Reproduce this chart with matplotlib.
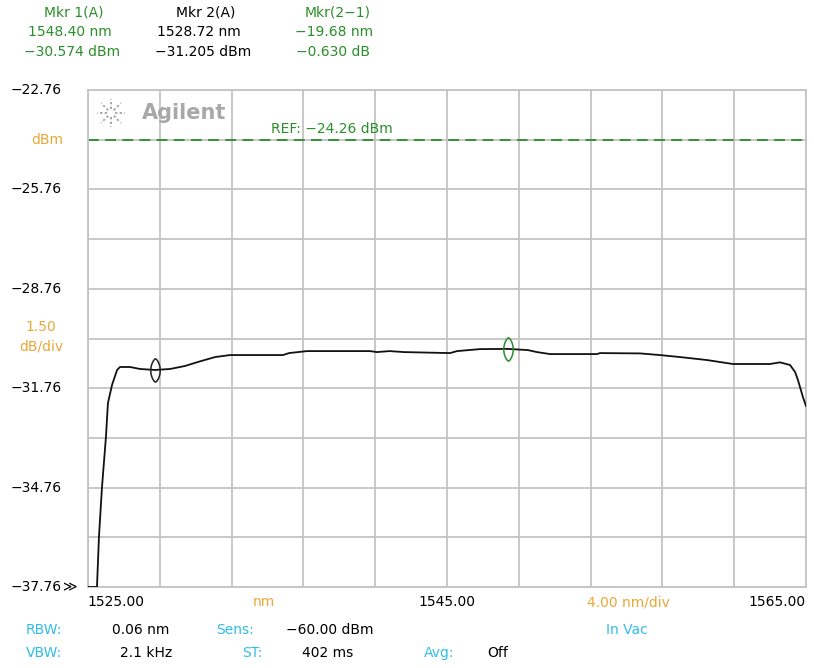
import numpy as np
import matplotlib.pyplot as plt
from matplotlib.path import Path
from matplotlib.lines import Line2D

# trace (nm, dBm)
wavelength = [1525.00, 1525.50, 1525.61, 1525.78, 1526.00, 1526.11, 1526.34, 1526.62,
              1526.78, 1527.34, 1527.90, 1528.73, 1529.57, 1530.40, 1531.24, 1532.08,
              1532.91, 1535.86, 1536.20, 1537.20, 1540.71, 1541.10, 1541.80, 1542.60,
              1545.17, 1545.56, 1546.84, 1548.40, 1549.51, 1550.01, 1550.74, 1553.36,
              1553.52, 1555.75, 1556.87, 1557.98, 1559.48, 1560.21, 1560.93, 1562.99,
              1563.55, 1564.11, 1564.39, 1564.55, 1564.83, 1565.00]
power = [-37.76, -37.76, -36.25, -34.74, -33.23, -32.21, -31.66, -31.21,
         -31.12, -31.12, -31.18, -31.21, -31.18, -31.09, -30.95, -30.82,
         -30.76, -30.76, -30.70, -30.64, -30.64, -30.67, -30.64, -30.67,
         -30.70, -30.64, -30.58, -30.574, -30.61, -30.67, -30.73, -30.73,
         -30.70, -30.71, -30.76, -30.82, -30.91, -30.97, -31.03, -31.03,
         -30.98, -31.06, -31.27, -31.51, -32.03, -32.30]

mkr_wl = [1548.40, 1528.72]
mkr_pw = [-30.574, -31.205]
mkr_col = ["#2a8f2a", "#222222"]

ref_level = -24.26
y_top, y_bot = -22.76, -37.76
x_lo, x_hi = 1525.0, 1565.0
ylabels = ["−22.76", "−25.76", "−28.76", "−31.76", "−34.76", "−37.76"]
xlabels = ["1525.00", "1545.00", "1565.00"]

green = "#2a8f2a"
orange = "#e8a838"
cyan = "#30bde8"
grid_c = "#c4c4c4"

W, H = 814, 668
fig = plt.figure(figsize=(W / 100, H / 100), dpi=100)
ax = fig.add_axes([88 / W, 1 - 587 / H, 718 / W, 497 / H])
ax.set_xlim(x_lo, x_hi)
ax.set_ylim(y_bot, y_top)

# 10 x 10 graticule
ax.set_xticks(np.linspace(x_lo, x_hi, 11))
ax.set_yticks(np.linspace(y_bot, y_top, 11))
ax.grid(True, color=grid_c, lw=1.3)
ax.tick_params(length=0, labelleft=False, labelbottom=False)
for s in ax.spines.values():
    s.set_color(grid_c)
    s.set_linewidth(1.3)

ax.plot(wavelength, power, color="#111111", lw=1.3, zorder=3)
ax.axhline(ref_level, color=green, lw=1.3, ls=(0, (6, 3.5)), zorder=2)

# lens shaped marker symbols
t = np.linspace(-1, 1, 31)
half = 0.4 * (1 - t**2) ** 0.75
lens = np.concatenate([np.column_stack([half, t]),
                       np.column_stack([-half[::-1], t[::-1]])])
lens_path = Path(lens)
for xm, ym, c in zip(mkr_wl, mkr_pw, mkr_col):
    ax.plot(xm, ym, marker=lens_path, ms=17, mfc="none", mec=c, mew=1.1, zorder=4)

def px(x, y, s, **kw):
    fig.text(x / W, 1 - y / H, s, fontsize=10, va="center", **kw)

# y labels
for i, lab in enumerate(ylabels):
    yv = y_top - 3 * i
    yp = 90 + (y_top - yv) / 15 * 497
    px(62, yp, lab, ha="right")
px(63, 587, "≫", ha="left")
px(63, 140, "dBm", ha="right", color=orange)
px(41, 327, "1.50", ha="center", color=orange)
px(41, 347, "dB/div", ha="center", color=orange)

# x labels
px(87, 602, xlabels[0], ha="left")
px(447, 602, xlabels[1], ha="center")
px(806, 602, xlabels[2], ha="right")
px(264, 602, "nm", ha="center", color=orange)
px(628, 602, "4.00 nm/div", ha="center", color=orange)

# marker readout
px(74, 12, "Mkr 1(A)", ha="center", color=green)
px(70, 32, "1548.40 nm", ha="center", color=green)
px(72, 52, "−30.574 dBm", ha="center", color=green)
px(206, 12, "Mkr 2(A)", ha="center")
px(199, 32, "1528.72 nm", ha="center")
px(203, 52, "−31.205 dBm", ha="center")
px(338, 12, "Mkr(2−1)", ha="center", color=green)
px(334, 32, "−19.68 nm", ha="center", color=green)
px(333, 52, "−0.630 dB", ha="center", color=green)

# reference label
px(271, 129, "REF: −24.26 dBm", ha="left", color=green)

# settings footer
px(26, 630, "RBW:", ha="left", color=cyan)
px(112, 630, "0.06 nm", ha="left")
px(216, 630, "Sens:", ha="left", color=cyan)
px(286, 630, "−60.00 dBm", ha="left")
px(627, 630, "In Vac", ha="center", color=cyan)
px(26, 653, "VBW:", ha="left", color=cyan)
px(120, 653, "2.1 kHz", ha="left")
px(242, 653, "ST:", ha="left", color=cyan)
px(302, 653, "402 ms", ha="left")
px(424, 653, "Avg:", ha="left", color=cyan)
px(487, 653, "Off", ha="left")

# Agilent logo
fig.text(142 / W, 1 - 113 / H, "Agilent", fontsize=15, fontweight="bold",
         color="#a8a8a8", va="center", ha="left")
cx, cy = 111, 113
for a in np.arange(8) * np.pi / 4:
    x0, y0 = cx + 4 * np.cos(a), cy + 4 * np.sin(a)
    x1, y1 = cx + 14 * np.cos(a), cy + 14 * np.sin(a)
    fig.add_artist(Line2D([x0 / W, x1 / W], [1 - y0 / H, 1 - y1 / H],
                          transform=fig.transFigure, color="#a8a8a8",
                          lw=1.4, ls=(0, (1.2, 1.2))))

fig.savefig("out.png", dpi=100)
